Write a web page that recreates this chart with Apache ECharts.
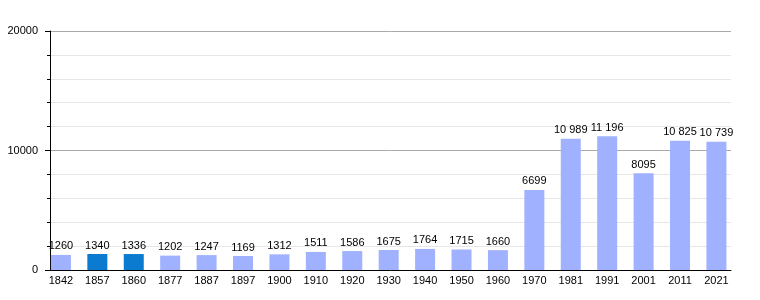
<!DOCTYPE html>
<html><head><meta charset="utf-8">
<script src="https://cdn.jsdelivr.net/npm/echarts@6/dist/echarts.min.js"></script>
<style>html,body{margin:0;padding:0;background:#fff}#c{width:760px;height:300px}</style>
</head><body><div id="c"></div>
<script>
const categories = ['1842','1857','1860','1877','1887','1897','1900','1910','1920','1930','1940','1950','1960','1970','1981','1991','2001','2011','2021'];
const population = [1260,1340,1336,1202,1247,1169,1312,1511,1586,1675,1764,1715,1660,6699,10989,11196,8095,10825,10739];
const highlighted = ['1857','1860'];
const yTicks = [0,10000,20000];

function fmt(v){ return v >= 10000 ? String(v).replace(/\B(?=(\d{3})+(?!\d))/g,' ') : String(v); }

const chart = echarts.init(document.getElementById('c'), null, {renderer:'canvas'});
chart.setOption({
  animation:false,
  grid:{left:50, right:29, top:31, bottom:30, containLabel:false},
  xAxis:{
    type:'value', min:-0.3, max:18.4,
    axisLine:{show:true, onZero:false, lineStyle:{color:'#000', width:1}},
    axisTick:{show:false},
    splitLine:{show:false},
    axisLabel:{customValues:categories.map((c,i)=>i), formatter:v=>categories[Math.round(v)], color:'#000', fontFamily:'Liberation Sans, Arial, sans-serif', fontSize:11, margin:5}
  },
  yAxis:{
    type:'value', min:0, max:20000, interval:10000,
    axisLine:{show:true, onZero:false, lineStyle:{color:'#000', width:1}},
    axisTick:{show:true, length:5, lineStyle:{color:'#000'}},
    minorTick:{show:true, splitNumber:5, length:3, lineStyle:{color:'#000'}},
    splitLine:{show:true, lineStyle:{color:'#aaaaaa', width:1}},
    minorSplitLine:{show:true, lineStyle:{color:'#e6e6e6', width:1}},
    axisLabel:{customValues:yTicks, formatter:v=>String(v), color:'#000', fontFamily:'Liberation Sans, Arial, sans-serif', fontSize:11, margin:12}
  },
  series:[{
    type:'bar', barWidth:20,
    data:population.map((v,i)=>({value:[i,v], itemStyle:{color: highlighted.includes(categories[i]) ? '#0a7bcf' : '#a0b1ff'}})),
    label:{show:true, position:'top', distance:3, color:'#000', fontFamily:'Liberation Sans, Arial, sans-serif', fontSize:11, formatter:p=>fmt(p.value[1])}
  }]
});
</script></body></html>
